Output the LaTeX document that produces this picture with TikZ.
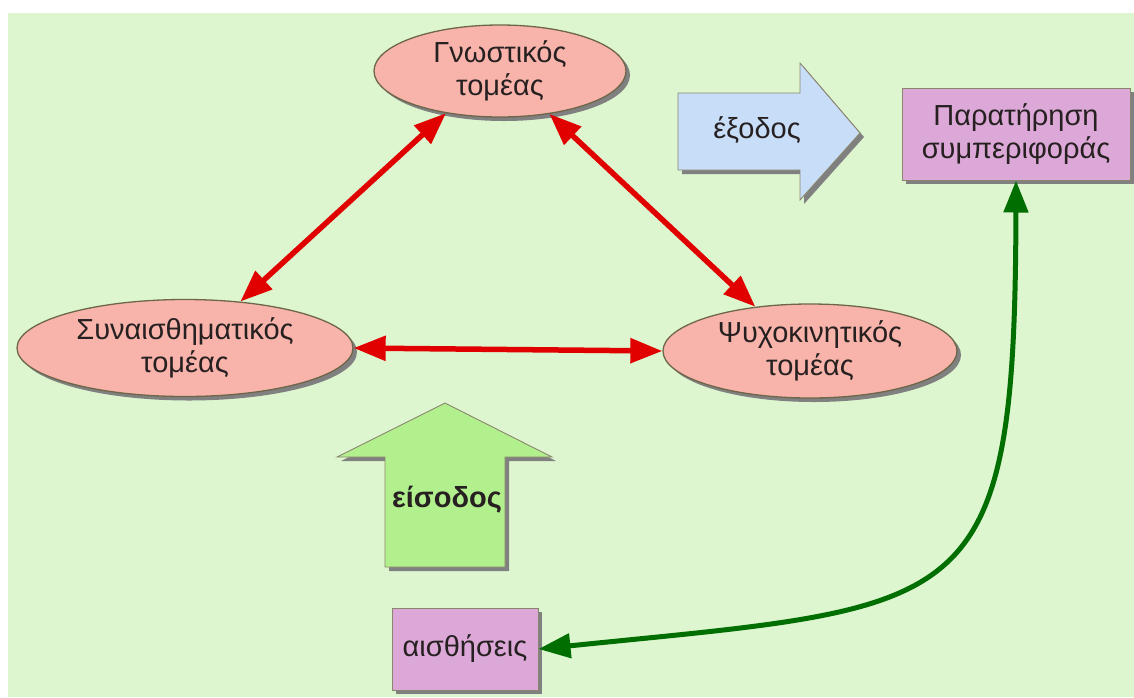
\documentclass[tikz,border=0pt]{standalone}
\usepackage{fontspec}
\setmainfont{Liberation Sans}
\usetikzlibrary{shapes.geometric,arrows.meta,shadows}

\definecolor{bgpale}{HTML}{DDF6CF}
\definecolor{salmonfill}{HTML}{F8B4AB}
\definecolor{rimcolor}{HTML}{6E6648}
\definecolor{mauvefill}{HTML}{DCA8D8}
\definecolor{skyfill}{HTML}{C8DEF8}
\definecolor{leaffill}{HTML}{B2F08E}
\definecolor{linkred}{HTML}{E00000}
\definecolor{linkgreen}{HTML}{006E00}
\definecolor{shadowgray}{HTML}{808080}
\definecolor{inkcolor}{HTML}{262020}

\begin{document}
\begin{tikzpicture}[x=1pt,y=-1pt,
  dshadow/.style={drop shadow={shadow xshift=4pt,shadow yshift=-4pt,fill=shadowgray,opacity=1}},
  label29/.style={font=\fontsize{29}{33}\selectfont, text=inkcolor, align=center},
  sector/.style={ellipse, draw=rimcolor, line width=1.3pt, fill=salmonfill, inner sep=0pt, dshadow, label29},
  panel/.style={rectangle, draw=rimcolor!80, line width=1pt, fill=mauvefill, inner sep=0pt, dshadow, label29},
  blockarrow/.style={draw=rimcolor!80, line width=0.9pt, dshadow},
  redlink/.style={draw=linkred, line width=5.5pt, {Triangle[length=32pt,width=24pt]}-{Triangle[length=32pt,width=24pt]}},
  greenlink/.style={draw=linkgreen, line width=5pt, {Triangle[length=32pt,width=24pt]}-{Triangle[length=32pt,width=24pt]}}
]
  % page and background
  \useasboundingbox (0,0) rectangle (1134,697);
  \fill[white] (0,0) rectangle (1134,697);
  \fill[bgpale] (8,13) rectangle (1134,697);

  % three domains
  \node[sector, minimum width=252pt, minimum height=92pt] (gn) at (500,71) {Γνωστικός\\τομέας};
  \node[sector, minimum width=336pt, minimum height=97pt] (syn) at (185,348) {Συναισθηματικός\\τομέας};
  \node[sector, minimum width=294pt, minimum height=94pt] (psy) at (810,351) {Ψυχοκινητικός\\τομέας};

  % output arrow
  \path[blockarrow, fill=skyfill] (678,93) -- (800,93) -- (800,63) -- (860,133) -- (800,200) -- (800,170) -- (678,170) -- cycle;
  \node[label29] (out) at (757,130) {έξοδος};

  % input arrow
  \path[blockarrow, fill=leaffill] (445,403) -- (552,457) -- (505,457) -- (505,567) -- (385,567) -- (385,457) -- (337,457) -- cycle;
  \node[label29, font=\fontsize{29}{33}\selectfont\bfseries] (inp) at (447,500) {είσοδος};

  % observation and senses
  \node[panel, minimum width=228pt, minimum height=92pt] (obs) at (1016,134) {Παρατήρηση\\συμπεριφοράς};
  \node[panel, minimum width=146pt, minimum height=82pt] (sens) at (465,649) {αισθήσεις};

  % links between domains
  \draw[redlink] (gn.218) -- (syn.40);
  \draw[redlink] (gn.-41.5) -- (psy.141);
  \draw[redlink] (syn.0) -- (psy.180);

  % feedback from observation to senses
  \draw[greenlink] (obs.south) .. controls (1015,620) and (970,605) .. (sens.east);
\end{tikzpicture}
\end{document}
